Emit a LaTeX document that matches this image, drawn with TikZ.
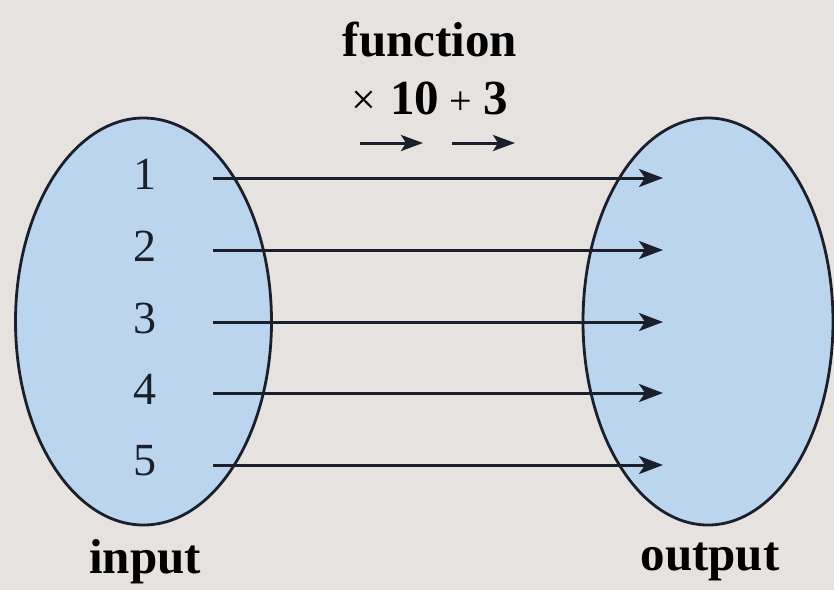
\documentclass[tikz,border=0pt]{standalone}
\usepackage{fontspec}
\setmainfont{Liberation Serif}
\usetikzlibrary{arrows.meta}
\definecolor{bg}{HTML}{E6E2DF}
\definecolor{setfill}{HTML}{BBD5EE}
\definecolor{ink}{HTML}{1A1F2B}
\tikzset{
  setshape/.style={draw=ink, line width=2.8pt, fill=setfill},
  maparrow/.style={draw=ink, line width=3pt, -{Stealth[length=24pt,width=18pt,inset=6pt]}},
  smallarrow/.style={draw=ink, line width=3pt, -{Stealth[length=22pt,width=16pt,inset=5pt]}},
  numlabel/.style={font=\fontsize{46}{50}\selectfont, text=ink, inner sep=0pt},
  bigbold/.style={font=\fontsize{49}{54}\selectfont\bfseries, text=black, inner sep=0pt},
  oplabel/.style={font=\fontsize{49}{54}\selectfont, text=black, inner sep=0pt}
}
\begin{document}
\begin{tikzpicture}[x=1pt,y=-1pt]
  \fill[bg] (0,0) rectangle (834,590);
  \useasboundingbox (0,0) rectangle (834,590);
  \draw[setshape] (143.5,321.5) ellipse [x radius=128, y radius=203.5];
  \draw[setshape] (708,321.5) ellipse [x radius=125, y radius=203.5];
  \foreach \i/\y in {1/178,2/250,3/322,4/393,5/465}{
    \node[numlabel] (n\i) at (145,\y-4) {\i};
    \coordinate (s\i) at (213,\y);
    \coordinate (t\i) at (663,\y);
    \draw[maparrow] (s\i) -- (t\i);
  }
  \node[bigbold] (fn) at (430,40) {function};
  \node[oplabel] (op) at (430,98)
    {{\fontsize{44}{48}\selectfont ×}\hspace{14pt}\textbf{10}\hspace{10pt}{\fontsize{40}{44}\selectfont +}\hspace{12pt}\textbf{3}};
  \coordinate (a1s) at (360,143);
  \coordinate (a1e) at (423,143);
  \coordinate (a2s) at (452,143);
  \coordinate (a2e) at (515,143);
  \draw[smallarrow] (a1s) -- (a1e);
  \draw[smallarrow] (a2s) -- (a2e);
  \node[bigbold] (in) at (145,562) {input};
  \node[bigbold] (out) at (710,562) {output};
\end{tikzpicture}
\end{document}
